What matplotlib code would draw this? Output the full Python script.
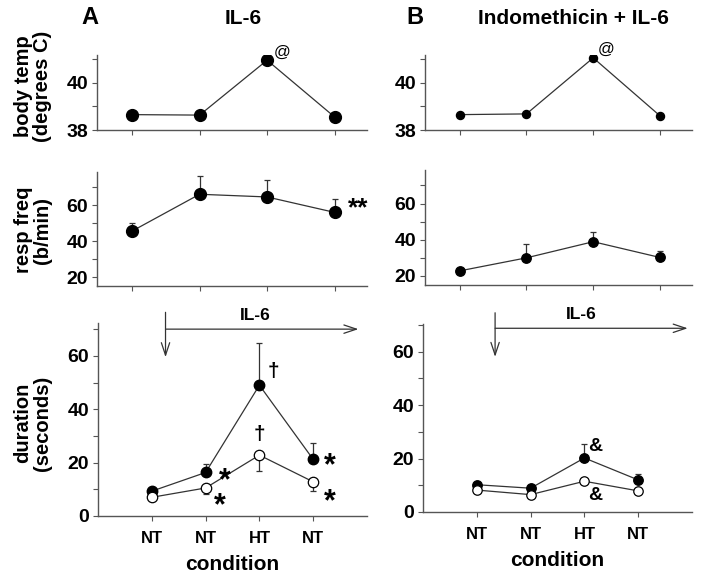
import matplotlib.pyplot as plt

plt.rcParams["font.family"] = ["Liberation Sans", "DejaVu Sans"]
plt.rcParams["font.weight"] = "bold"

conditions = ["NT", "NT", "HT", "NT"]
xpos = [0, 1, 2, 3]

# body temperature (degrees C)
temp_il6 = [38.65, 38.63, 40.95, 38.55]
temp_indo = [38.65, 38.68, 41.05, 38.6]

# respiratory frequency (b/min), mean and upper error
resp_il6 = [45.6, 66.1, 64.6, 56.0]
resp_il6_err = [4.6, 10.2, 9.3, 7.7]
resp_indo = [22.8, 30.0, 38.9, 30.2]
resp_indo_err = [1.0, 7.7, 5.3, 3.7]

# duration (seconds): filled = upper series, open = lower series
dur_il6_filled = [9.3, 16.3, 49.0, 21.2]
dur_il6_filled_err = [0.5, 3.3, 15.8, 6.3]
dur_il6_open = [7.0, 10.5, 22.8, 12.8]
dur_il6_open_err = [0.5, 2.2, 6.0, 3.4]
dur_indo_filled = [10.2, 8.9, 20.2, 12.0]
dur_indo_filled_err = [0.5, 0.5, 5.2, 2.3]
dur_indo_open = [8.2, 6.5, 11.5, 7.9]
dur_indo_open_err = [0.4, 0.4, 1.0, 0.4]

W, H = 704, 580
fig = plt.figure(figsize=(W / 100, H / 100), dpi=100)


def px_axes(left, top, right, bottom):
    return fig.add_axes([left / W, 1 - bottom / H, (right - left) / W, (bottom - top) / H])


def style(ax):
    for s in ("top", "right"):
        ax.spines[s].set_visible(False)
    for s in ("left", "bottom"):
        ax.spines[s].set_color("#555555")
        ax.spines[s].set_linewidth(1.0)
    ax.tick_params(axis="both", direction="out", length=3.5, width=0.8, color="#555555",
                   labelsize=14, pad=3)


def set_yticks(ax, ticks, labelled):
    ax.set_yticks(ticks)
    ax.set_yticklabels([str(t) if t in labelled else "" for t in ticks], fontweight="bold")


line_kw = dict(color="#333333", lw=0.9)

# ---- top row: body temperature
ax_ta = px_axes(97, 55, 367, 130)
ax_tb = px_axes(425, 55, 692, 130)
for ax, vals, ms in ((ax_ta, temp_il6, 8.5), (ax_tb, temp_indo, 5.8)):
    ax.plot(xpos, vals, marker="o", ms=ms, mfc="black", mec="black", **line_kw)
    ax.set_xlim(-0.52, 3.48)
    ax.set_ylim(38, 41.17)
    ax.set_xticks(xpos)
    ax.set_xticklabels([])
    set_yticks(ax, [38, 39, 40, 41], [38, 40])
    style(ax)
ax_ta.annotate("@", (2, temp_il6[2]), xytext=(11, 6), textcoords="offset points",
               fontsize=12, fontweight="normal", ha="center", va="center")
ax_tb.annotate("@", (2, temp_indo[2]), xytext=(9, 6), textcoords="offset points",
               fontsize=12, fontweight="normal", ha="center", va="center")

# ---- middle row: respiratory frequency
ax_ma = px_axes(97, 172, 367, 286)
ax_mb = px_axes(425, 170, 692, 285)
for ax, vals, err, ms in ((ax_ma, resp_il6, resp_il6_err, 8.5), (ax_mb, resp_indo, resp_indo_err, 6.8)):
    ax.errorbar(xpos, vals, yerr=[[0] * 4, err], fmt="-o", ms=ms, mfc="black", mec="black",
                ecolor="#333333", elinewidth=0.9, capsize=2.5, capthick=0.9, **line_kw)
    ax.set_xlim(-0.52, 3.48)
    ax.set_ylim(15, 78.5)
    ax.set_xticks(xpos)
    ax.set_xticklabels([])
    set_yticks(ax, [20, 30, 40, 50, 60, 70], [20, 40, 60])
    style(ax)
ax_ma.annotate("**", (3, resp_il6[3]), xytext=(17, 3), textcoords="offset points",
               fontsize=19, fontweight="bold", ha="center", va="center")

# ---- bottom row: duration
ax_ba = px_axes(98, 323, 367, 516)
ax_bb = px_axes(423, 324, 692, 512)
panels = (
    (ax_ba, dur_il6_filled, dur_il6_filled_err, dur_il6_open, dur_il6_open_err, 7.5, 72.3),
    (ax_bb, dur_indo_filled, dur_indo_filled_err, dur_indo_open, dur_indo_open_err, 6.8, 70.3),
)
for ax, fv, fe, ov, oe, ms, ytop in panels:
    ax.errorbar(xpos, fv, yerr=[[0] * 4, fe], fmt="-o", ms=ms, mfc="black", mec="black",
                ecolor="#333333", elinewidth=0.9, capsize=2.5, capthick=0.9, **line_kw)
    ax.errorbar(xpos, ov, yerr=[oe, [0] * 4], fmt="-o", ms=ms, mfc="white", mec="black",
                mew=0.9, ecolor="#333333", elinewidth=0.9, capsize=2.5, capthick=0.9, **line_kw)
    ax.set_xlim(-1, 4)
    ax.set_ylim(0, ytop)
    ax.set_xticks(xpos)
    ax.set_xticklabels(conditions, fontweight="bold")
    set_yticks(ax, [0, 10, 20, 30, 40, 50, 60, 70], [0, 20, 40, 60])
    style(ax)
    ax.tick_params(axis="x", labelsize=12, pad=7)
    ax.set_xlabel("condition", fontsize=15, fontweight="bold", labelpad=7)

arrow_kw = dict(arrowstyle="->,head_length=0.9,head_width=0.3", color="#333333", lw=0.9,
                shrinkA=0, shrinkB=0)
# IL-6 arrows, panel A
ax_ba.annotate("", xy=(0.255, 59.5), xytext=(0.255, 76.3), arrowprops=arrow_kw,
               annotation_clip=False)
ax_ba.annotate("", xy=(3.84, 70.0), xytext=(0.255, 70.0), arrowprops=arrow_kw,
               annotation_clip=False)
ax_ba.text(1.92, 75.0, "IL-6", fontsize=12.5, fontweight="bold", ha="center", va="center")
# IL-6 arrows, panel B
ax_bb.annotate("", xy=(0.34, 58.0), xytext=(0.34, 74.5), arrowprops=arrow_kw,
               annotation_clip=False)
ax_bb.annotate("", xy=(3.92, 68.7), xytext=(0.34, 68.7), arrowprops=arrow_kw,
               annotation_clip=False)
ax_bb.text(1.94, 73.7, "IL-6", fontsize=12.5, fontweight="bold", ha="center", va="center")

# significance marks
star = dict(textcoords="offset points", fontsize=22, fontweight="bold", ha="center", va="center")
ax_ba.annotate("*", (1, dur_il6_filled[1]), xytext=(14, -6), **star)
ax_ba.annotate("*", (1, dur_il6_open[1]), xytext=(10, -13), **star)
ax_ba.annotate("*", (3, dur_il6_filled[3]), xytext=(12, -5), **star)
ax_ba.annotate("*", (3, dur_il6_open[3]), xytext=(12, -15), **star)
dag = dict(textcoords="offset points", fontsize=15, fontweight="bold", ha="center", va="center")
ax_ba.annotate("\u2020", (2, dur_il6_filled[2]), xytext=(10, 10), **dag)
ax_ba.annotate("\u2020", (2, dur_il6_open[2]), xytext=(0, 15), **dag)
amp = dict(textcoords="offset points", fontsize=14, fontweight="bold", ha="center", va="center")
ax_bb.annotate("&", (2, dur_indo_filled[2]), xytext=(8, 8), **amp)
ax_bb.annotate("&", (2, dur_indo_open[2]), xytext=(8, -10), **amp)

# panel titles
fig.text(90 / W, 1 - 18 / H, "A", fontsize=17, fontweight="bold", ha="center", va="center")
fig.text(243 / W, 1 - 18 / H, "IL-6", fontsize=15, fontweight="bold", ha="center", va="center")
fig.text(415 / W, 1 - 18 / H, "B", fontsize=17, fontweight="bold", ha="center", va="center")
fig.text(573 / W, 1 - 18 / H, "Indomethicin + IL-6", fontsize=15, fontweight="bold",
         ha="center", va="center")

# row labels
for y, label in ((86, "body temp\n(degrees C)"), (230, "resp freq\n(b/min)"),
                 (423, "duration\n(seconds)")):
    fig.text(33 / W, 1 - y / H, label, fontsize=14.5, fontweight="bold", rotation=90,
             ha="center", va="center", multialignment="center", linespacing=1.05)

fig.savefig("out.png", dpi=100)
